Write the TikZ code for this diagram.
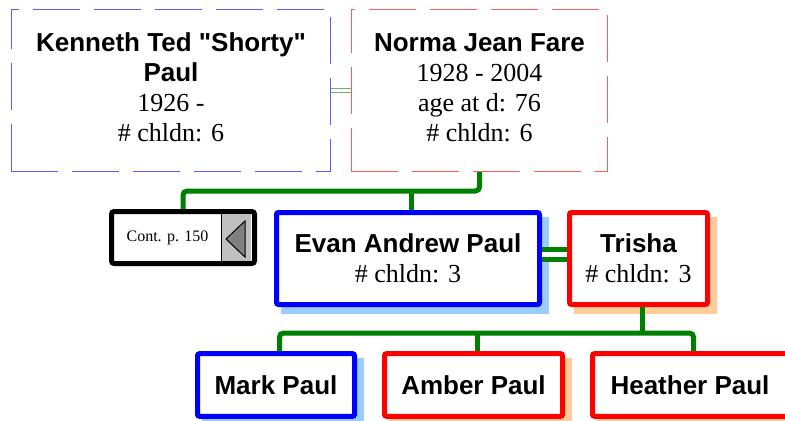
\documentclass[tikz,border=0pt]{standalone}
\usepackage{fontspec}
\setmainfont{Liberation Serif}
\newfontfamily\namefont{Liberation Sans}[Ligatures=TeXOff]
\usetikzlibrary{backgrounds}
\definecolor{lineGreen}{RGB}{0,128,0}
\definecolor{pairGreen}{RGB}{110,180,110}
\definecolor{shadeBlue}{RGB}{153,204,255}
\definecolor{shadePeach}{RGB}{255,204,153}
\definecolor{btnGray}{RGB}{192,192,192}
\definecolor{arrowGray}{RGB}{128,128,128}
\definecolor{dashBlue}{RGB}{90,90,255}
\definecolor{dashRed}{RGB}{255,90,90}
\newcommand{\pname}[1]{{\namefont\bfseries #1}}
\begin{document}
\begin{tikzpicture}[x=0.75pt,y=0.75pt,yscale=-1,xscale=1,
  every node/.style={font=\fontsize{19.5}{22.5}\selectfont, align=center, inner sep=0pt},
  oldbox/.style={draw, line width=1pt, dash pattern=on 35.25pt off 10.5pt, dash phase=0pt, text depth=5pt},
  kidbox/.style={draw, line width=3.75pt, rounded corners=1.5pt, fill=white},
  manbox/.style={kidbox, draw=blue},
  ladybox/.style={kidbox, draw=red},
  famline/.style={draw=lineGreen, line width=3.75pt, rounded corners=3pt},
  pairline/.style={draw=lineGreen, line width=3.75pt, double=white, double distance=3.75pt},
  thinpair/.style={draw=pairGreen, line width=0.75pt, double=white, double distance=2.25pt}]
\useasboundingbox (0,0) rectangle (785,421);

% grandparents
\node[oldbox, draw=dashBlue, minimum width=239.5pt, minimum height=121.5pt] (kenneth) at (171,90.5)
  {\pname{Kenneth Ted "Shorty"}\\\pname{Paul}\\1926 -\\\# chldn: 6};
\node[oldbox, draw=dashRed, minimum width=192.25pt, minimum height=121.5pt] (norma) at (479.5,90.5)
  {\pname{Norma Jean Fare}\\1928 - 2004\\age at d: 76\\\# chldn: 6};
\draw[thinpair] (kenneth.east) -- (norma.west);

% continuation box
\node[draw, line width=3.75pt, rounded corners=2pt, minimum width=107.25pt, minimum height=39pt] (cont) at (183,237.5) {};
\node[font=\fontsize{12}{14}\selectfont] (conttext) at (167.5,238) {Cont. p. 150};
\fill[btnGray] (221,214) rectangle (250.5,261);
\draw[line width=0.75pt] (221,214) -- (221,261);
\draw[line width=0.75pt, fill=arrowGray] (226,239) -- (245,221) -- (245,257) -- cycle;

% parents
\node[manbox, minimum width=197.25pt, minimum height=69pt] (evan) at (408,258.5)
  {\pname{Evan Andrew Paul}\\\# chldn: 3};
\node[ladybox, minimum width=103.5pt, minimum height=69pt] (trisha) at (638.5,258.5)
  {\pname{Trisha}\\\# chldn: 3};
\draw[pairline] ([yshift=-3pt]evan.east) -- ([yshift=-3pt]trisha.west);

% children
\node[manbox, minimum width=117.75pt, minimum height=47pt] (mark) at (276,385) {\pname{Mark Paul}};
\node[ladybox, minimum width=133.5pt, minimum height=47pt] (amber) at (473.5,385) {\pname{Amber Paul}};
\node[ladybox, minimum width=146.25pt, minimum height=47pt] (heather) at (690,385) {\pname{Heather Paul}};

\begin{scope}[on background layer]
  \foreach \who/\tint in {evan/shadeBlue, trisha/shadePeach, mark/shadeBlue, amber/shadePeach, heather/shadePeach}
    \fill[\tint] ([shift={(7,7)}]\who.north west) rectangle ([shift={(7,7)}]\who.south east);
\end{scope}

% family lines
\coordinate (parbar) at (0,191);
\coordinate (kidbar) at (0,333);
\coordinate (evanup) at ([xshift=2.625pt]evan.north);
\coordinate (trishadn) at ([xshift=2.625pt]trisha.south);
\coordinate (markup) at ([xshift=2.625pt]mark.north);
\coordinate (amberup) at ([xshift=2.625pt]amber.north);
\coordinate (heatherup) at ([xshift=2.625pt]heather.north);
\draw[famline] (norma.south) -- (norma.south |- parbar) -| (cont.north);
\draw[famline] (evanup) -- (evanup |- parbar);
\draw[famline] (trishadn) -- (trishadn |- kidbar);
\draw[famline] (markup) |- (heatherup |- kidbar) -- (heatherup);
\draw[famline] (amberup) -- (amberup |- kidbar);
\end{tikzpicture}
\end{document}
